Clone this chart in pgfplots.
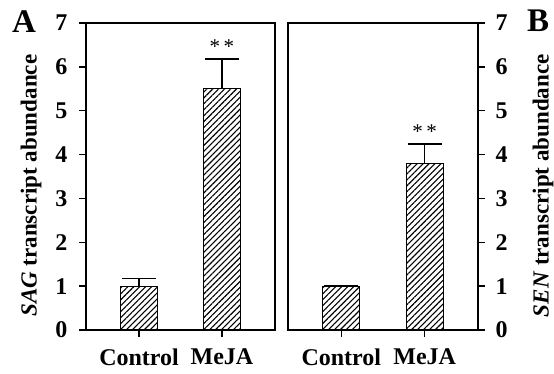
\documentclass[border=0pt]{standalone}
\usepackage{pgfplots}
\pgfplotsset{compat=1.18}
\usepackage{fontspec}
\setmainfont{Liberation Serif}
\usetikzlibrary{patterns.meta}
\begin{document}
\begin{tikzpicture}
\pgfplotsset{
  panel/.style={
    scale only axis, height=307pt,
    ymin=0, ymax=7, ytick={0,1,...,7},
    xmin=-0.64, xmax=1.64, xtick={0,1}, xticklabels={Control,MeJA},
    ybar, bar width=37pt,
    tick align=outside, major tick length=7pt,
    xtick pos=bottom,
    axis line style={line width=1.3pt},
    every tick/.style={line width=1.3pt, black},
    /pgf/number format/assume math mode=true,
    tick label style={font=\fontsize{24}{26}\selectfont\bfseries},
    xticklabel style={yshift=-8pt},
    label style={font=\fontsize{23}{25}\selectfont\bfseries},
  },
  barstyle/.style={draw=black, line width=1.2pt, fill=none,
    pattern={Lines[angle=45,distance=4.2pt,line width=1.1pt]}, pattern color=black,
    error bars/.cd, y dir=plus, y explicit,
    error bar style={line width=1.2pt, black},
    error mark options={rotate=90, mark size=17pt, line width=1.2pt, black}},
}
\begin{axis}[panel, at={(86pt,0pt)}, anchor=south west, width=189pt,
  ytick pos=left,
  yticklabel style={xshift=-8pt},
  ylabel={\textit{SAG} transcript abundance},
  ylabel style={at={(axis description cs:-0.291,0.47)}, anchor=center}]
\addplot[barstyle] coordinates {(0,1.0) +- (0,0.17) (1,5.5) +- (0,0.68)};
\node[font=\fontsize{21}{21}\selectfont] at (axis cs:1,6.45) {*\,*};
\end{axis}
\begin{axis}[panel, at={(288pt,0pt)}, anchor=south west, width=190pt,
  ytick pos=right, yticklabel pos=right,
  yticklabel style={xshift=7pt},
  ylabel={\textit{SEN} transcript abundance},
  ylabel style={at={(axis description cs:1.342,0.47)}, anchor=center}]
\addplot[barstyle] coordinates {(0,1.0) +- (0,0.02) (1,3.8) +- (0,0.44)};
\node[font=\fontsize{21}{21}\selectfont] at (axis cs:1,4.52) {*\,*};
\end{axis}
\node[font=\fontsize{33}{33}\selectfont\bfseries] at (24pt,308pt) {A};
\node[font=\fontsize{33}{33}\selectfont\bfseries] at (538pt,309pt) {B};
\pgfresetboundingbox
\path[use as bounding box] (0pt,-43pt) rectangle (554pt,330pt);
\end{tikzpicture}
\end{document}
